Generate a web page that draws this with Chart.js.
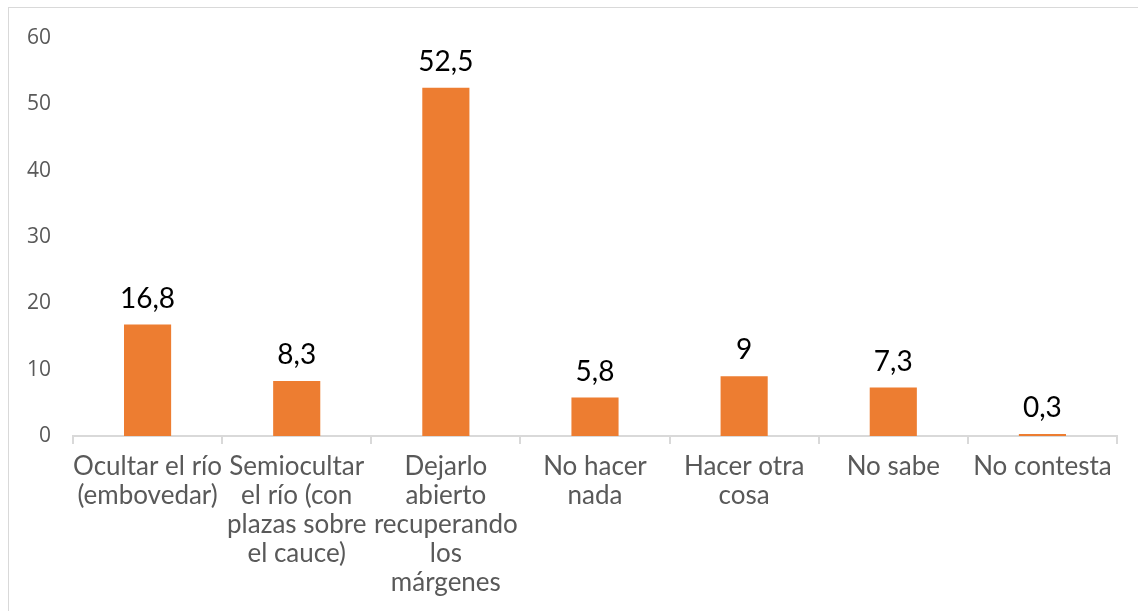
<!DOCTYPE html>
<html>
<head>
<meta charset="utf-8">
<script src="https://cdn.jsdelivr.net/npm/chart.js@4"></script>
<style>
  html, body { margin: 0; padding: 0; background: #fff; overflow: hidden; }
  #box { position: absolute; left: 8px; top: 7px; width: 1140px; height: 620px;
         border: 1px solid #d9d9d9; }
  #wrap { position: absolute; left: 0; top: 0; width: 1129px; height: 603px; }
</style>
</head>
<body>
<div id="box"><div id="wrap"><canvas id="chart"></canvas></div></div>
<script>
const categories = [
  ['Ocultar el río', '(embovedar)'],
  ['Semiocultar', 'el río (con', 'plazas sobre', 'el cauce)'],
  ['Dejarlo', 'abierto', 'recuperando', 'los', 'márgenes'],
  ['No hacer', 'nada'],
  ['Hacer otra', 'cosa'],
  ['No sabe'],
  ['No contesta']
];
const values = [16.8, 8.3, 52.5, 5.8, 9, 7.3, 0.3];
const valueLabels = ['16,8', '8,3', '52,5', '5,8', '9', '7,3', '0,3'];

const labelFont = '"Lato", "Noto Sans", sans-serif';

const barLabels = {
  id: 'barLabels',
  afterDatasetsDraw(chart) {
    const ctx = chart.ctx;
    const meta = chart.getDatasetMeta(0);
    ctx.save();
    ctx.font = '28px ' + labelFont;
    ctx.fillStyle = '#000';
    ctx.textAlign = 'center';
    ctx.textBaseline = 'alphabetic';
    meta.data.forEach((bar, i) => {
      ctx.fillText(valueLabels[i], bar.x, bar.y - 17);
    });
    ctx.restore();
  }
};

new Chart(document.getElementById('chart'), {
  type: 'bar',
  data: {
    labels: categories,
    datasets: [{
      data: values,
      backgroundColor: '#ED7D31',
      borderWidth: 0,
      categoryPercentage: 1,
      barPercentage: 0.316
    }]
  },
  options: {
    responsive: true,
    maintainAspectRatio: false,
    animation: false,
    layout: { padding: { top: 30, right: 21, bottom: 0, left: 0 } },
    plugins: {
      legend: { display: false },
      tooltip: { enabled: false }
    },
    scales: {
      x: {
        grid: { drawOnChartArea: false, color: '#d9d9d9', tickLength: 8, lineWidth: 2 },
        border: { color: '#d9d9d9', width: 2 },
        ticks: {
          color: '#595959',
          font: { family: labelFont, size: 26, lineHeight: 1.12 },
          maxRotation: 0,
          autoSkip: false,
          padding: 8
        },
        afterFit(scale) { scale.height = 175; }
      },
      y: {
        min: 0,
        max: 60,
        grid: { display: false },
        border: { display: false },
        ticks: {
          stepSize: 10,
          color: '#595959',
          font: { family: '"Open Sans", sans-serif', size: 21 },
          padding: 14
        },
        afterFit(scale) { scale.width = 64; }
      }
    }
  },
  plugins: [barLabels]
});
</script>
</body>
</html>
